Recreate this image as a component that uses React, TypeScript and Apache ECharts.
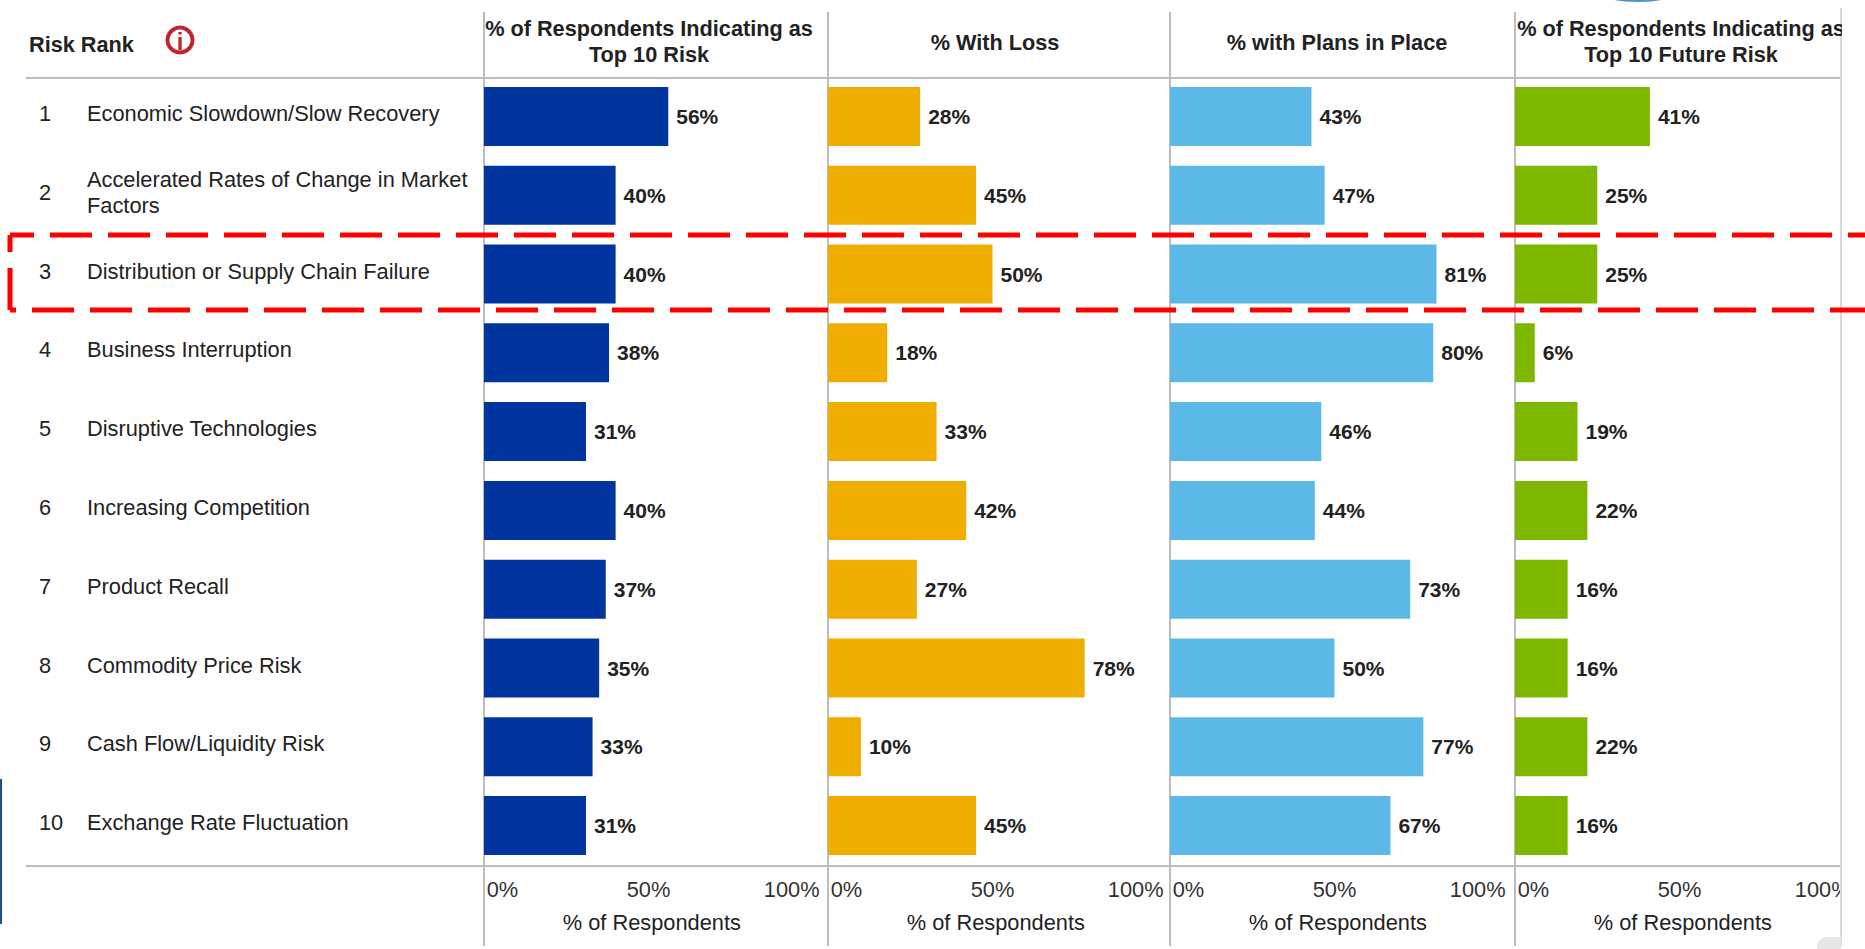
import React, { useEffect, useRef } from "react";
import * as echarts from "echarts";

const ranks = ["1", "2", "3", "4", "5", "6", "7", "8", "9", "10"];
const risks = [
  "Economic Slowdown/Slow Recovery",
  "Accelerated Rates of Change in Market\nFactors",
  "Distribution or Supply Chain Failure",
  "Business Interruption",
  "Disruptive Technologies",
  "Increasing Competition",
  "Product Recall",
  "Commodity Price Risk",
  "Cash Flow/Liquidity Risk",
  "Exchange Rate Fluctuation",
];
const top10Risk = [56, 40, 40, 38, 31, 40, 37, 35, 33, 31];
const withLoss = [28, 45, 50, 18, 33, 42, 27, 78, 10, 45];
const withPlans = [43, 47, 81, 80, 46, 44, 73, 50, 77, 67];
const futureRisk = [41, 25, 25, 6, 19, 22, 16, 16, 22, 16];
const headers = [
  "% of Respondents Indicating as\nTop 10 Risk",
  "% With Loss",
  "% with Plans in Place",
  "% of Respondents Indicating as\nTop 10 Future Risk",
];
const tickLabels = ["0%", "50%", "100%"];
const tickAnchors = [0.8, 50, 102];
const axisTitle = "% of Respondents";

const FONT = '"Liberation Sans", Arial, sans-serif';
const FS = 21;
const BODY = 21.8;
const HEAD = 21.7;
const INK = "#222";
const RULE = "#bdbdbd";
const colLeft = [484, 828, 1170, 1515];
const colors = ["#00359F", "#EEAD00", "#5CB8E6", "#7DB700"];
const headerCx = [649, 995, 1337, 1681];
const allValues = [top10Risk, withLoss, withPlans, futureRisk];

function vline(x: number, color = RULE, width = 2, y1 = 12, y2 = 946) {
  return { type: "line", z: 5, shape: { x1: x, y1, x2: x, y2 }, style: { stroke: color, lineWidth: width } };
}
function hline(y: number) {
  return { type: "line", z: 5, shape: { x1: 26, y1: y, x2: 1841, y2: y }, style: { stroke: RULE, lineWidth: 2 } };
}
function redLine(points: number[][], offset: number) {
  return {
    type: "polyline",
    z: 30,
    shape: { points },
    style: { stroke: "#FF0000", lineWidth: 5, fill: "none", lineDash: [42, 16], lineDashOffset: offset },
  };
}

export default function App() {
  const ref = useRef<HTMLDivElement>(null);
  useEffect(() => {
    const chart = echarts.init(ref.current!, undefined, { renderer: "svg" });
    const grid: any[] = colLeft.map((left) => ({ left, width: 335.6, top: 77, height: 788, containLabel: false }));
    // Row captions sit slightly above the bar centres, so they get their own grid.
    grid.push({ left: 484, width: 335.6, top: 74, height: 788, containLabel: false });
    const xAxis: any[] = colLeft.map((_, i) => ({
      type: "value",
      gridIndex: i,
      min: 0,
      max: 102,
      position: "bottom",
      axisLine: { show: false },
      axisTick: { show: false },
      splitLine: { show: false },
      name: axisTitle,
      nameLocation: "middle",
      nameGap: 46,
      nameTextStyle: { fontFamily: FONT, fontSize: BODY, color: INK },
      axisLabel: {
        customValues: tickAnchors,
        formatter: (v: number) => tickLabels[tickAnchors.indexOf(v)],
        alignMinLabel: "left",
        alignMaxLabel: "right",
        showMinLabel: true,
        showMaxLabel: true,
        hideOverlap: false,
        margin: 13,
        fontFamily: FONT,
        fontSize: BODY,
        color: "#333",
      },
    }));
    xAxis.push({ type: "value", gridIndex: 4, show: false, min: 0, max: 102 });
    const yAxis: any[] = colLeft.map((_, i) => ({
      type: "category",
      gridIndex: i,
      inverse: true,
      data: risks,
      axisLine: { show: false },
      axisTick: { show: false },
      axisLabel: { show: false },
    }));
    const captionAxis = (data: string[], margin: number) => ({
      type: "category",
      gridIndex: 4,
      inverse: true,
      data,
      position: "left",
      axisLine: { show: false },
      axisTick: { show: false },
      axisLabel: {
        show: true,
        align: "left",
        margin,
        interval: 0,
        fontFamily: FONT,
        fontSize: BODY,
        lineHeight: 26,
        color: INK,
      },
    });
    yAxis.push(captionAxis(risks, 397), captionAxis(ranks, 445));
    const series = allValues.map((data, i) => ({
      type: "bar",
      xAxisIndex: i,
      yAxisIndex: i,
      data,
      barWidth: 59,
      itemStyle: { color: colors[i] },
      z: 8,
      label: {
        show: true,
        position: "right",
        distance: 8,
        formatter: "{c}%",
        fontFamily: FONT,
        fontSize: FS,
        fontWeight: "bold",
        color: INK,
      },
    }));
    const graphic = [
      hline(78),
      hline(866),
      ...colLeft.map((x) => vline(x)),
      vline(1841, "#d9d9d9", 2, 8, 946),
      ...headers.map((text, i) => ({
        type: "text",
        z: 10,
        x: headerCx[i],
        y: i === 0 || i === 3 ? 41 : 42,
        style: {
          text,
          fill: INK,
          font: `bold ${HEAD}px ${FONT}`,
          lineHeight: 26,
          align: "center",
          verticalAlign: "middle",
        },
      })),
      {
        type: "text",
        z: 10,
        x: 29,
        y: 44,
        style: { text: "Risk Rank", fill: INK, font: `bold ${HEAD}px ${FONT}`, verticalAlign: "middle" },
      },
      { type: "ring", z: 10, shape: { cx: 180, cy: 40, r: 14.5, r0: 10.5 }, style: { fill: "#C0272D" } },
      {
        type: "text",
        z: 10,
        x: 180,
        y: 41,
        style: { text: "i", fill: "#C0272D", font: `bold 24px ${FONT}`, align: "center", verticalAlign: "middle" },
      },
      { type: "rect", z: 20, shape: { x: 1842, y: 0, width: 23, height: 949 }, style: { fill: "#fff" } },
      { type: "rect", z: 21, shape: { x: 1817, y: 937, width: 24, height: 12, r: [10, 0, 0, 0] }, style: { fill: "#e6e6e6" } },
      { type: "rect", z: 21, shape: { x: 0, y: 779, width: 2, height: 145 }, style: { fill: "#1F4E8C" } },
      { type: "ellipse", z: 21, shape: { cx: 1638, cy: -5, rx: 34, ry: 7 }, style: { fill: "#4F93C4" } },
      redLine([[10, 235], [1870, 235]], 18),
      redLine([[10, 310], [10, 235]], 0),
      redLine([[10, 310], [1870, 310]], 36),
    ];
    chart.setOption({ animation: false, backgroundColor: "#fff", grid, xAxis, yAxis, series, graphic });
    return () => chart.dispose();
  }, []);
  return <div ref={ref} style={{ position: "fixed", left: 0, top: 0, width: 1865, height: 949 }} />;
}
